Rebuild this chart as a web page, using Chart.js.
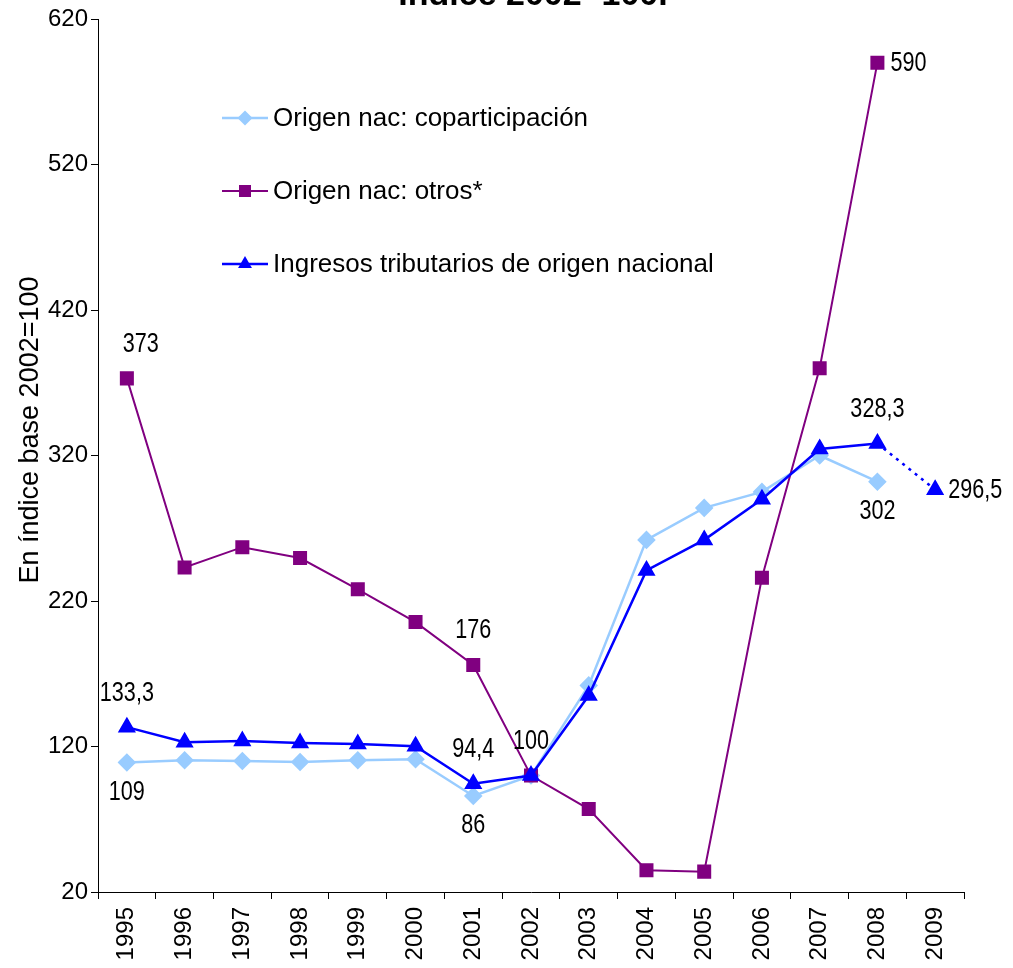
<!DOCTYPE html>
<html>
<head>
<meta charset="utf-8">
<script src="https://cdn.jsdelivr.net/npm/chart.js@4/dist/chart.umd.min.js"></script>
<style>
  html, body { margin: 0; padding: 0; background: #fff; }
  #wrap { width: 1013px; height: 968px; }
</style>
</head>
<body>
<div id="wrap"><canvas id="myChart" width="1013" height="968"></canvas></div>
<script>
// data
const years = ['1995', '1996', '1997', '1998', '1999', '2000', '2001', '2002',
               '2003', '2004', '2005', '2006', '2007', '2008', '2009'];
const coparticipacion = [109, 110.5, 110, 109.3, 110.6, 111.3, 86, 100, 162, 262, 284, 295, 320, 302, null];
const otros = [373, 243, 257, 249.5, 228, 205.5, 176, 100, 77, 35, 34, 236, 380, 590, null];
const ingresosNac = [133.3, 123, 123.7, 122.4, 121.7, 120.2, 94.4, 100, 155, 241, 262, 290, 324.5, 328.3, 296.5];
const yTicks = [20, 120, 220, 320, 420, 520, 620];

// which points carry a value label (dataset index, point index, placement)
const pointLabels = [
    { ds: 0, i: 0, pos: 'below' },
    { ds: 0, i: 6, pos: 'below' },
    { ds: 0, i: 13, pos: 'below' },
    { ds: 1, i: 0, pos: 'above' },
    { ds: 1, i: 6, pos: 'above' },
    { ds: 1, i: 7, pos: 'above' },
    { ds: 1, i: 13, pos: 'right' },
    { ds: 2, i: 0, pos: 'above' },
    { ds: 2, i: 6, pos: 'above' },
    { ds: 2, i: 13, pos: 'above' },
    { ds: 2, i: 14, pos: 'right' }
];

const regular = '"Liberation Sans", Arial, sans-serif';

const data = {
    labels: years,
    datasets: [{
        label: 'Origen nac: coparticipación',
        data: coparticipacion,
        borderColor: '#99CCFF',
        backgroundColor: '#99CCFF',
        borderWidth: 2.5,
        pointStyle: 'rectRot',
        pointRadius: 7.5,
        order: 2
    }, {
        label: 'Origen nac: otros*',
        data: otros,
        borderColor: '#800080',
        backgroundColor: '#800080',
        borderWidth: 2,
        pointStyle: 'rect',
        pointRadius: 8.5,
        order: 1
    }, {
        label: 'Ingresos tributarios de origen nacional',
        data: ingresosNac,
        borderColor: '#0000FF',
        backgroundColor: '#0000FF',
        borderWidth: 2.5,
        pointStyle: 'triangle',
        pointRadius: 8,
        order: 0,
        segment: {
            borderDash: ctx => ctx.p1DataIndex === years.length - 1 ? [3, 5] : undefined
        }
    }]
};

// narrow-looking text: regular font squeezed horizontally
function narrowText(ctx, txt, x, y, align) {
    const sx = 0.8;
    const w = ctx.measureText(txt).width * sx;
    let left = x;
    if (align === 'center') left = x - w / 2;
    ctx.save();
    ctx.translate(left, y);
    ctx.scale(sx, 1);
    ctx.textAlign = 'left';
    ctx.fillText(txt, 0, 0);
    ctx.restore();
}

// value labels, title, y title and the legend inside the plot
const extras = {
    id: 'extras',
    afterDatasetsDraw(chart) {
        const ctx = chart.ctx;
        ctx.save();
        ctx.fillStyle = '#000';
        ctx.font = '27px ' + regular;
        ctx.textBaseline = 'middle';
        pointLabels.forEach(l => {
            const el = chart.getDatasetMeta(l.ds).data[l.i];
            const v = chart.data.datasets[l.ds].data[l.i];
            const txt = String(v).replace('.', ',');
            if (l.pos === 'right') {
                narrowText(ctx, txt, el.x + 13, el.y + 1, 'left');
            } else {
                const dx = (l.ds === 1 && l.i === 0) ? 14 : 0;
                narrowText(ctx, txt, el.x + dx, el.y + (l.pos === 'above' ? -34 : 30), 'center');
            }
        });

        // title, mostly cut off by the top edge
        ctx.font = 'bold 34px ' + regular;
        ctx.textAlign = 'center';
        ctx.textBaseline = 'alphabetic';
        ctx.fillText('Índice 2002=100.', 533, 5);

        // y axis title
        ctx.save();
        ctx.translate(31, 430);
        ctx.rotate(-Math.PI / 2);
        ctx.font = '27px ' + regular;
        ctx.textAlign = 'center';
        ctx.textBaseline = 'middle';
        ctx.fillText('En índice base 2002=100', 0, 0);
        ctx.restore();

        // legend
        ctx.font = '26px ' + regular;
        ctx.textAlign = 'left';
        ctx.textBaseline = 'middle';
        const rows = [118, 191, 264];
        chart.data.datasets.forEach((ds, k) => {
            const y = rows[k];
            ctx.strokeStyle = ds.borderColor;
            ctx.lineWidth = ds.borderWidth;
            ctx.beginPath();
            ctx.moveTo(222, y);
            ctx.lineTo(268, y);
            ctx.stroke();
            ctx.fillStyle = ds.backgroundColor;
            Chart.helpers.drawPoint(ctx, {
                pointStyle: ds.pointStyle,
                radius: ds.pointRadius,
                rotation: 0,
                borderWidth: 0
            }, 245, y);
            ctx.fillStyle = '#000';
            ctx.fillText(ds.label, 273, y + 1);
        });
        ctx.restore();
    }
};

const options = {
    responsive: false,
    animation: false,
    layout: { padding: { top: 19, right: 49, bottom: 0, left: 0 } },
    plugins: {
        legend: { display: false },
        title: { display: false },
        tooltip: { enabled: false }
    },
    elements: { line: { tension: 0 } },
    scales: {
        x: {
            offset: true,
            border: { color: '#000', width: 1 },
            grid: { display: true, drawOnChartArea: false, drawTicks: true, tickLength: 7, offset: true, color: '#000' },
            ticks: {
                color: '#000',
                font: { family: regular, size: 24 },
                maxRotation: 90,
                minRotation: 90,
                padding: 8,
                autoSkip: false
            },
            afterFit(scale) { scale.height = 76; }
        },
        y: {
            min: 20,
            max: 620,
            border: { color: '#000', width: 1 },
            grid: { display: true, drawOnChartArea: false, drawTicks: true, tickLength: 7, color: '#000' },
            afterBuildTicks(scale) { scale.ticks = yTicks.map(v => ({ value: v })); },
            ticks: {
                color: '#000',
                font: { family: regular, size: 24 },
                padding: 3
            },
            afterFit(scale) { scale.width = 98; }
        }
    }
};

const config = {
    type: 'line',
    data,
    options,
    plugins: [extras]
};

const myChart = new Chart(document.getElementById('myChart'), config);
</script>
</body>
</html>
